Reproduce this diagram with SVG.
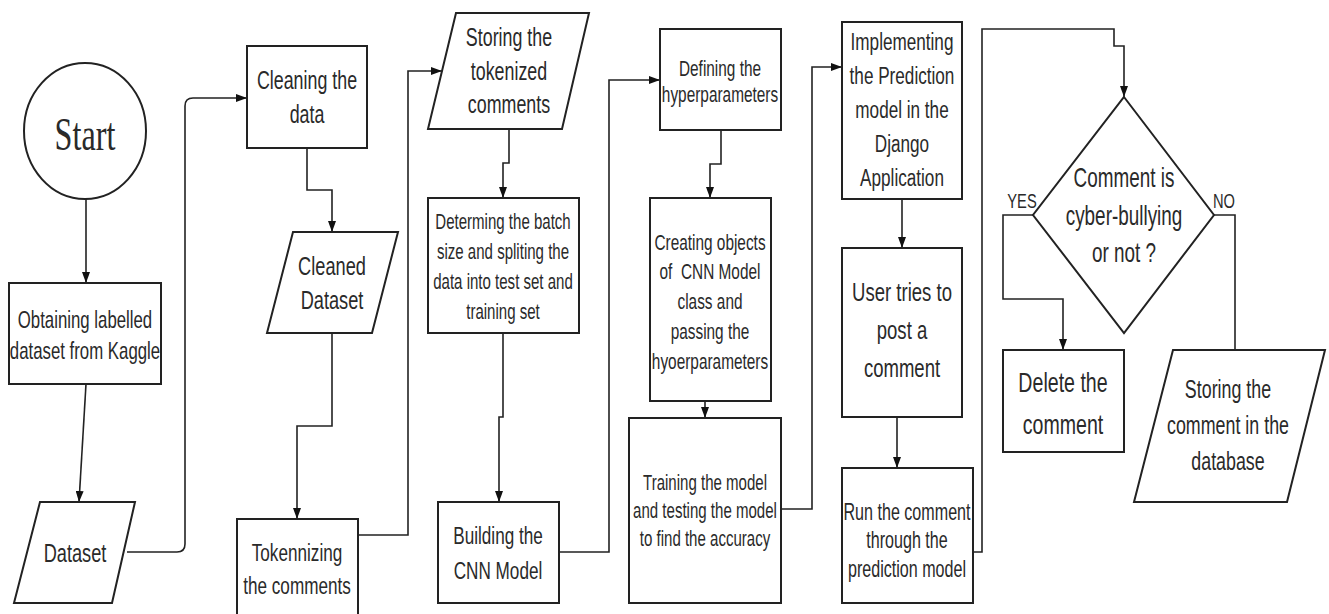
<svg xmlns="http://www.w3.org/2000/svg" width="1329" height="614" viewBox="0 0 1329 614">
<style>
.s{fill:#fff;stroke:#222;stroke-width:2}
.c{fill:none;stroke:#222;stroke-width:1.6}
.t{font-family:"Liberation Sans",Arial,sans-serif;fill:#2a2a2a;text-anchor:middle}
.serif{font-family:"Liberation Serif","Times New Roman",serif;fill:#2a2a2a;text-anchor:middle}
</style>
<defs>
<marker id="arr" viewBox="0 0 11 8" refX="11" refY="4" markerWidth="11" markerHeight="8" markerUnits="userSpaceOnUse" orient="auto">
<path d="M0,0 L11,4 L0,8 Z" fill="#111"/>
</marker>
</defs>
<rect width="1329" height="614" fill="#fff"/>

<g id="connectors">
<path class="c" d="M86,199 V283" marker-end="url(#arr)"/>
<path class="c" d="M86,384 L79,502" marker-end="url(#arr)"/>
<path class="c" d="M127,552 H177 Q185,552 185,544 V106 Q185,98 193,98 H247" marker-end="url(#arr)"/>
<path class="c" d="M307,148 V190 H332 V232" marker-end="url(#arr)"/>
<path class="c" d="M332,333 V426 H297 V519" marker-end="url(#arr)"/>
<path class="c" d="M358,535 H408 V71 H442" marker-end="url(#arr)"/>
<path class="c" d="M509,129 V163 H503 V198" marker-end="url(#arr)"/>
<path class="c" d="M503,333 V417 H499 V502" marker-end="url(#arr)"/>
<path class="c" d="M559,552 H609 V80 H660" marker-end="url(#arr)"/>
<path class="c" d="M721,130 V164 H710 V198" marker-end="url(#arr)"/>
<path class="c" d="M705,401 V418" marker-end="url(#arr)"/>
<path class="c" d="M781,509 H812 V67 H842" marker-end="url(#arr)"/>
<path class="c" d="M902,199 V248" marker-end="url(#arr)"/>
<path class="c" d="M897,417 V468" marker-end="url(#arr)"/>
<path class="c" d="M973,552 H982 V29 H1114 V46 H1124 V97" marker-end="url(#arr)"/>
<path class="c" d="M1033,215 H1003 V299 H1063 V350" marker-end="url(#arr)"/>
<path class="c" d="M1214,215 H1235 V350"/>
</g>

<g id="start">
<ellipse class="s" cx="85" cy="131" rx="61" ry="68"/>
<text class="serif" transform="translate(85,0) scale(0.7,1)" font-size="46"><tspan x="0" y="150">Start</tspan></text>
</g>

<g id="obtain">
<rect class="s" x="9" y="283" width="152" height="101"/>
<text class="t" transform="translate(85,0) scale(0.7,1)" font-size="24"><tspan x="0" y="328">Obtaining labelled</tspan><tspan x="0" y="359">dataset from Kaggle</tspan></text>
</g>

<g id="dataset">
<polygon class="s" points="40,502 135,502 112,603 14,603"/>
<text class="t" transform="translate(75,0) scale(0.7,1)" font-size="26"><tspan x="0" y="562">Dataset</tspan></text>
</g>

<g id="cleaning">
<rect class="s" x="247" y="46" width="120" height="102"/>
<text class="t" transform="translate(307,0) scale(0.7,1)" font-size="25.5"><tspan x="0" y="89">Cleaning the</tspan><tspan x="0" y="123">data</tspan></text>
</g>

<g id="cleaned">
<polygon class="s" points="293,232 398,232 372,333 267,333"/>
<text class="t" transform="translate(332,0) scale(0.7,1)" font-size="26"><tspan x="0" y="275">Cleaned</tspan><tspan x="0" y="309">Dataset</tspan></text>
</g>

<g id="tokenizing">
<rect class="s" x="237" y="519" width="121" height="110"/>
<text class="t" transform="translate(297,0) scale(0.7,1)" font-size="24.5"><tspan x="0" y="561">Tokennizing</tspan><tspan x="0" y="594">the comments</tspan></text>
</g>

<g id="storing-tokens">
<polygon class="s" points="456,13 589,13 562,129 428,129"/>
<text class="t" transform="translate(509,0) scale(0.7,1)" font-size="25.5"><tspan x="0" y="46">Storing the</tspan><tspan x="0" y="80">tokenized</tspan><tspan x="0" y="113">comments</tspan></text>
</g>

<g id="determining">
<rect class="s" x="428" y="198" width="151" height="135"/>
<text class="t" transform="translate(503,0) scale(0.7,1)" font-size="21.5"><tspan x="0" y="229">Determing the batch</tspan><tspan x="0" y="259">size and spliting the</tspan><tspan x="0" y="289">data into test set and</tspan><tspan x="0" y="319">training set</tspan></text>
</g>

<g id="building">
<rect class="s" x="438" y="502" width="121" height="101"/>
<text class="t" transform="translate(498,0) scale(0.7,1)" font-size="24.5"><tspan x="0" y="544">Building the</tspan><tspan x="0" y="579">CNN Model</tspan></text>
</g>

<g id="defining">
<rect class="s" x="660" y="29" width="121" height="101"/>
<text class="t" transform="translate(720,0) scale(0.7,1)" font-size="22"><tspan x="0" y="76">Defining the</tspan><tspan x="0" y="102">hyperparameters</tspan></text>
</g>

<g id="creating">
<rect class="s" x="650" y="198" width="121" height="203"/>
<text class="t" transform="translate(710,0) scale(0.7,1)" font-size="22"><tspan x="0" y="250">Creating objects</tspan><tspan x="0" y="279" xml:space="preserve">of  CNN Model</tspan><tspan x="0" y="309">class and</tspan><tspan x="0" y="339">passing the</tspan><tspan x="0" y="369">hyoerparameters</tspan></text>
</g>

<g id="training">
<rect class="s" x="629" y="418" width="152" height="185"/>
<text class="t" transform="translate(705,0) scale(0.7,1)" font-size="21.5"><tspan x="0" y="490">Training the model</tspan><tspan x="0" y="518">and testing the model</tspan><tspan x="0" y="546">to find the accuracy</tspan></text>
</g>

<g id="implementing">
<rect class="s" x="842" y="22" width="120" height="177"/>
<text class="t" transform="translate(902,0) scale(0.7,1)" font-size="24.5"><tspan x="0" y="50">Implementing</tspan><tspan x="0" y="84">the Prediction</tspan><tspan x="0" y="118">model in the</tspan><tspan x="0" y="152">Django</tspan><tspan x="0" y="186">Application</tspan></text>
</g>

<g id="user">
<rect class="s" x="842" y="248" width="120" height="169"/>
<text class="t" transform="translate(902,0) scale(0.7,1)" font-size="26.5"><tspan x="0" y="301">User tries to</tspan><tspan x="0" y="339">post a</tspan><tspan x="0" y="377">comment</tspan></text>
</g>

<g id="run">
<rect class="s" x="842" y="468" width="131" height="135"/>
<text class="t" transform="translate(907,0) scale(0.7,1)" font-size="23"><tspan x="0" y="520">Run the comment</tspan><tspan x="0" y="548">through the</tspan><tspan x="0" y="577">prediction model</tspan></text>
</g>

<g id="decision">
<polygon class="s" points="1124,97 1214,215 1124,333 1033,215"/>
<text class="t" transform="translate(1124,0) scale(0.7,1)" font-size="27"><tspan x="0" y="187">Comment is</tspan><tspan x="0" y="225">cyber-bullying</tspan><tspan x="0" y="262">or not ?</tspan></text>
<text class="t" transform="translate(1022,0) scale(0.7,1)" font-size="21"><tspan x="0" y="208">YES</tspan></text>
<text class="t" transform="translate(1224,0) scale(0.7,1)" font-size="21"><tspan x="0" y="208">NO</tspan></text>
</g>

<g id="delete">
<rect class="s" x="1003" y="350" width="121" height="102"/>
<text class="t" transform="translate(1063,0) scale(0.7,1)" font-size="28"><tspan x="0" y="392">Delete the</tspan><tspan x="0" y="434">comment</tspan></text>
</g>

<g id="store-db">
<polygon class="s" points="1173,350 1325,350 1287,502 1134,502"/>
<text class="t" transform="translate(1228,0) scale(0.7,1)" font-size="25.5"><tspan x="0" y="398">Storing the</tspan><tspan x="0" y="434">comment in the</tspan><tspan x="0" y="470">database</tspan></text>
</g>
</svg>
